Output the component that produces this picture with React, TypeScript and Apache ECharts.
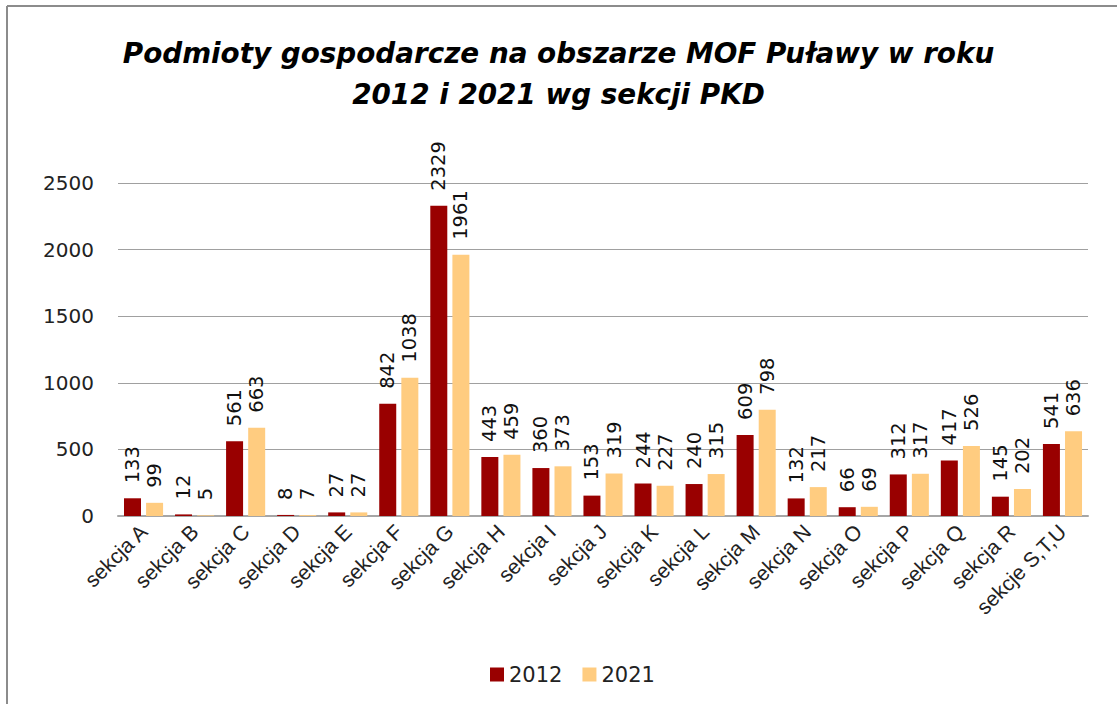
import React, { useEffect, useRef } from "react";
import * as echarts from "echarts";

const titleText = "Podmioty gospodarcze na obszarze MOF Puławy w roku\n2012 i 2021 wg sekcji PKD";
const categories = [
  "sekcja A", "sekcja B", "sekcja C", "sekcja D", "sekcja E", "sekcja F", "sekcja G",
  "sekcja H", "sekcja I", "sekcja J", "sekcja K", "sekcja L", "sekcja M", "sekcja N",
  "sekcja O", "sekcja P", "sekcja Q", "sekcja R", "sekcje S,T,U",
];
const values2012 = [133, 12, 561, 8, 27, 842, 2329, 443, 360, 153, 244, 240, 609, 132, 66, 312, 417, 145, 541];
const values2021 = [99, 5, 663, 7, 27, 1038, 1961, 459, 373, 319, 227, 315, 798, 217, 69, 317, 526, 202, 636];
const seriesNames = ["2012", "2021"];
const yTicks = { min: 0, max: 2500, interval: 500 };

const colors = ["#990000", "#FFCC80"];

export default function App() {
  const ref = useRef<HTMLDivElement>(null);
  useEffect(() => {
    if (!ref.current) return;
    const chart = echarts.init(ref.current, undefined, { renderer: "svg" });
    const labelCfg = {
      show: true,
      position: "top",
      rotate: 90,
      align: "left",
      verticalAlign: "middle",
      distance: 15,
      fontSize: 19.5,
      fontFamily: "DejaVu Sans",
      color: "#111",
    };
    chart.setOption({
      animation: false,
      backgroundColor: "#fff",
      title: {
        text: titleText,
        left: "center",
        top: 28,
        textStyle: {
          fontSize: 27.8,
          fontStyle: "italic",
          fontWeight: "bold",
          fontFamily: "DejaVu Sans",
          lineHeight: 41,
          color: "#000",
        },
      },
      graphic: [
        { type: "line", shape: { x1: 7, y1: 6, x2: 1117, y2: 6 }, style: { stroke: "#8c8c8c", lineWidth: 2 } },
        { type: "line", shape: { x1: 7, y1: 6, x2: 7, y2: 704 }, style: { stroke: "#8c8c8c", lineWidth: 2 } },
      ],
      legend: {
        left: 485,
        top: 659,
        itemWidth: 14,
        itemHeight: 14,
        itemGap: 20,
        itemTextGap: 8,
        icon: "rect",
        textStyle: { fontSize: 21, fontFamily: "DejaVu Sans", color: "#222" },
        data: seriesNames,
      },
      grid: { left: 118, right: 29, top: 183, bottom: 188, containLabel: false },
      xAxis: {
        type: "category",
        data: categories,
        axisLine: { lineStyle: { color: "#a6a6a6", width: 2 } },
        axisTick: { show: false },
        axisLabel: {
          interval: 0,
          rotate: 45,
          fontSize: 21,
          fontFamily: "Liberation Sans",
          color: "#222",
          margin: 12,
        },
      },
      yAxis: {
        type: "value",
        min: yTicks.min,
        max: yTicks.max,
        interval: yTicks.interval,
        axisLine: { show: false },
        axisTick: { show: false },
        splitLine: { lineStyle: { color: "#a0a0a0", width: 1 } },
        axisLabel: {
          fontSize: 20,
          fontFamily: "DejaVu Sans",
          color: "#222",
          margin: 24,
          formatter: (v: number) => String(v),
        },
      },
      series: [
        {
          name: seriesNames[0],
          type: "bar",
          data: values2012,
          barWidth: 17,
          barGap: "30%",
          itemStyle: { color: colors[0] },
          label: labelCfg,
        },
        {
          name: seriesNames[1],
          type: "bar",
          data: values2021,
          barWidth: 17,
          barGap: "30%",
          itemStyle: { color: colors[1] },
          label: labelCfg,
        },
      ],
    });
    return () => chart.dispose();
  }, []);
  return (
    <div
      ref={ref}
      style={{ position: "fixed", left: 0, top: 0, width: 1117, height: 704 }}
    />
  );
}
